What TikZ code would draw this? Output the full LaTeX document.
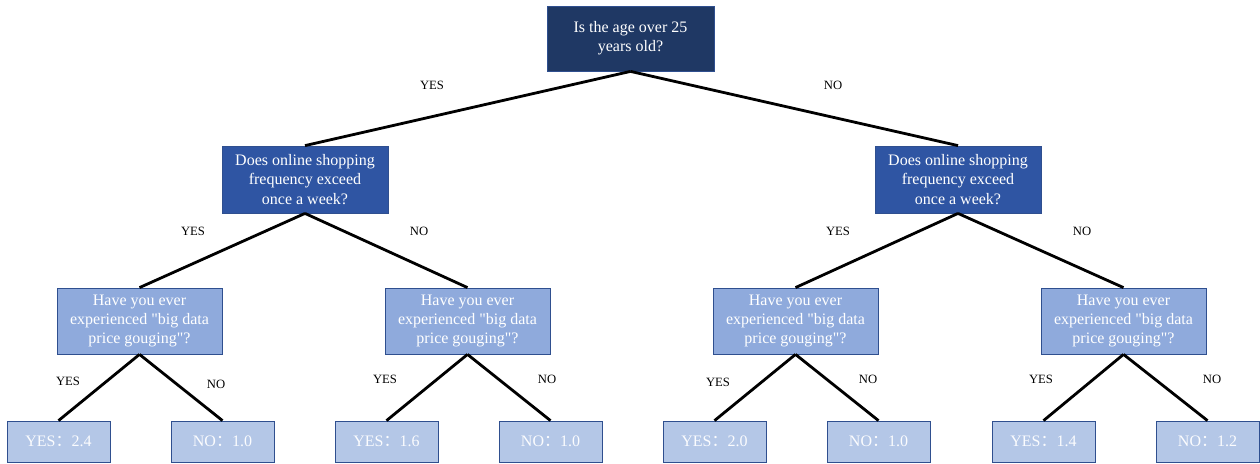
\documentclass[tikz,border=0pt]{standalone}
\usepackage{fontspec}
\setmainfont{Liberation Serif}
\newfontfamily\cjk{Noto Sans CJK SC}
\newcommand{\fcolon}{{\cjk ：}}
\newcommand{\sq}{\textquotedbl}
\definecolor{rootc}{HTML}{1F3864}
\definecolor{midc}{HTML}{2F55A3}
\definecolor{lowc}{HTML}{8FAADC}
\definecolor{leafc}{HTML}{B4C7E7}
\definecolor{edgec}{HTML}{2F4F8F}
\tikzset{
  box/.style={draw=edgec, line width=0.6pt, text=white, align=center, inner sep=0pt, font=\fontsize{12}{14.5}\selectfont},
  rootbox/.style={box, fill=rootc, minimum width=125.25pt, minimum height=48.75pt},
  midbox/.style={box, fill=midc, minimum width=124.5pt, minimum height=50.25pt},
  lowbox/.style={box, fill=lowc, minimum width=123.75pt, minimum height=49.5pt},
  leafbox/.style={box, fill=leafc, text=white!95!leafc, minimum width=77.25pt, minimum height=30.75pt},
  conn/.style={draw=black, line width=2.1pt},
  lab/.style={font=\fontsize{9.5}{11}\selectfont, text=black}
}
\begin{document}
\begin{tikzpicture}[x=0.75pt, y=-0.75pt]
\useasboundingbox (0,0) rectangle (1260,464);
% nodes
\node[rootbox] (r) at (630.5,38.5) {Is the age over 25\\years old?};
\node[midbox] (a) at (305,179.5) {Does online shopping\\frequency exceed\\once a week?};
\node[midbox] (b) at (958,179.5) {Does online shopping\\frequency exceed\\once a week?};
\node[lowbox] (a1) at (139.5,321) {Have you ever\\experienced \sq big data\\price gouging\sq ?};
\node[lowbox] (a2) at (467.5,321) {Have you ever\\experienced \sq big data\\price gouging\sq ?};
\node[lowbox] (b1) at (795.5,321) {Have you ever\\experienced \sq big data\\price gouging\sq ?};
\node[lowbox] (b2) at (1123.5,321) {Have you ever\\experienced \sq big data\\price gouging\sq ?};
\node[leafbox] (l1) at (58.5,441.5) {YES\fcolon 2.4};
\node[leafbox] (l2) at (222.5,441.5) {NO\fcolon 1.0};
\node[leafbox] (l3) at (386.5,441.5) {YES\fcolon 1.6};
\node[leafbox] (l4) at (550.5,441.5) {NO\fcolon 1.0};
\node[leafbox] (l5) at (714.5,441.5) {YES\fcolon 2.0};
\node[leafbox] (l6) at (878.5,441.5) {NO\fcolon 1.0};
\node[leafbox] (l7) at (1043.5,441.5) {YES\fcolon 1.4};
\node[leafbox] (l8) at (1207.5,441.5) {NO\fcolon 1.2};
% connectors
\draw[conn] (r.south) -- (a.north);
\draw[conn] (r.south) -- (b.north);
\draw[conn] (a.south) -- (a1.north);
\draw[conn] (a.south) -- (a2.north);
\draw[conn] (b.south) -- (b1.north);
\draw[conn] (b.south) -- (b2.north);
\draw[conn] (a1.south) -- (l1.north);
\draw[conn] (a1.south) -- (l2.north);
\draw[conn] (a2.south) -- (l3.north);
\draw[conn] (a2.south) -- (l4.north);
\draw[conn] (b1.south) -- (l5.north);
\draw[conn] (b1.south) -- (l6.north);
\draw[conn] (b2.south) -- (l7.north);
\draw[conn] (b2.south) -- (l8.north);
% labels
\node[lab] (t1) at (432,85) {YES};
\node[lab] (t2) at (833,85) {NO};
\node[lab] (t3) at (193,231) {YES};
\node[lab] (t4) at (419,231) {NO};
\node[lab] (t5) at (838,231) {YES};
\node[lab] (t6) at (1082,231) {NO};
\node[lab] (t7) at (68,381) {YES};
\node[lab] (t8) at (216,384) {NO};
\node[lab] (t9) at (385,379) {YES};
\node[lab] (t10) at (547,379) {NO};
\node[lab] (t11) at (718,382) {YES};
\node[lab] (t12) at (868,379) {NO};
\node[lab] (t13) at (1041,379) {YES};
\node[lab] (t14) at (1212,379) {NO};
\end{tikzpicture}
\end{document}
